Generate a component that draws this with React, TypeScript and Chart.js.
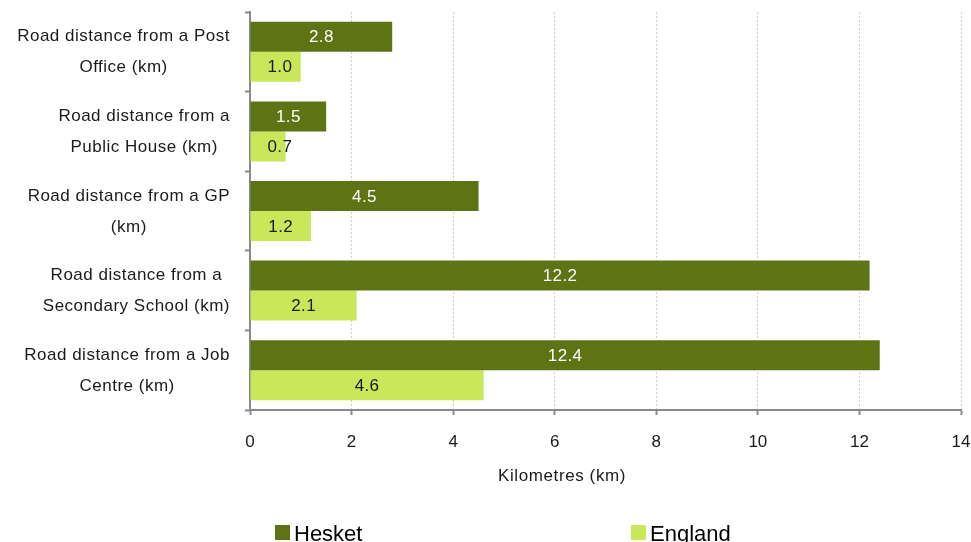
import React, { useEffect, useRef } from "react";
import { Chart, registerables } from "chart.js";

Chart.register(...registerables);

const categories: string[][] = [
  ["Road distance from a Post", "Office (km)"],
  ["Road distance from a", "Public House (km)"],
  ["Road distance from a GP", "(km)"],
  ["Road distance from a", "Secondary School (km)"],
  ["Road distance from a Job", "Centre (km)"],
];
const hesketValues = [2.8, 1.5, 4.5, 12.2, 12.4];
const englandValues = [1.0, 0.7, 1.2, 2.1, 4.6];
const seriesNames = ["Hesket", "England"];
const xMin = 0;
const xMax = 14;
const xStep = 2;
const xTitle = "Kilometres (km)";

const HESKET_COLOR = "#5e7314";
const ENGLAND_COLOR = "#c8e85a";
const LABEL_COLORS = ["#ffffff", "#1a1a1a"];
const FONT = "'Liberation Sans', Arial, Helvetica, sans-serif";
const TEXT = "#1a1a1a";
const AXIS = "#8a8a8a";

const textPlugin = {
  id: "customText",
  afterDatasetsDraw(chart: any) {
    const ctx = chart.ctx as CanvasRenderingContext2D;
    ctx.save();
    (ctx as any).letterSpacing = "0.4px";
    ctx.font = `17px ${FONT}`;
    ctx.textBaseline = "middle";
    ctx.textAlign = "center";
    chart.data.datasets.forEach((ds: any, di: number) => {
      const meta = chart.getDatasetMeta(di);
      meta.data.forEach((bar: any, i: number) => {
        const v = ds.data[i] as number;
        const text = v.toFixed(1);
        const w = ctx.measureText(text).width;
        const x = Math.max((bar.base + bar.x) / 2, bar.base + 17 + w / 2);
        ctx.fillStyle = LABEL_COLORS[di];
        ctx.fillText(text, x, bar.y + 1);
      });
    });
    ctx.restore();
  },
  afterDraw(chart: any) {
    const ctx = chart.ctx as CanvasRenderingContext2D;
    const yScale = chart.scales.y;
    ctx.save();
    (ctx as any).letterSpacing = "0.5px";
    // category labels
    ctx.font = `17px ${FONT}`;
    ctx.fillStyle = TEXT;
    ctx.textBaseline = "middle";
    ctx.textAlign = "center";
    const labels = chart.data.labels as string[][];
    labels.forEach((lines, i) => {
      const cy = yScale.getPixelForValue(i);
      const bw = Math.max(...lines.map((l) => ctx.measureText(l).width));
      const right = yScale.right - 20;
      const cx = right - bw / 2;
      const lh = 31;
      const start = cy - ((lines.length - 1) * lh) / 2;
      lines.forEach((l, k) => {
        ctx.fillText(l, cx, start + k * lh + 0.5);
      });
    });
    // axis title
    (ctx as any).letterSpacing = "0.6px";
    ctx.fillText(xTitle, 562, 476);
    // legend
    (ctx as any).letterSpacing = "0px";
    ctx.font = `22px ${FONT}`;
    ctx.textAlign = "left";
    ctx.textBaseline = "alphabetic";
    const legendX = [275, 631];
    chart.data.datasets.forEach((ds: any, di: number) => {
      const x = legendX[di];
      ctx.fillStyle = ds.backgroundColor;
      ctx.fillRect(x, 525, 15, 15);
      ctx.fillStyle = "#000000";
      ctx.fillText(ds.label, x + 19, 541);
    });
    ctx.restore();
  },
};

export default function App() {
  const canvasRef = useRef<HTMLCanvasElement | null>(null);

  useEffect(() => {
    if (!canvasRef.current) return;
    const chart = new Chart(canvasRef.current, {
      type: "bar",
      data: {
        labels: categories as any,
        datasets: [
          {
            label: seriesNames[0],
            data: hesketValues,
            backgroundColor: HESKET_COLOR,
            categoryPercentage: 0.754,
            barPercentage: 1,
          },
          {
            label: seriesNames[1],
            data: englandValues,
            backgroundColor: ENGLAND_COLOR,
            categoryPercentage: 0.754,
            barPercentage: 1,
          },
        ],
      },
      options: {
        indexAxis: "y",
        animation: false,
        responsive: false,
        maintainAspectRatio: false,
        layout: { padding: { top: 12, right: 10, left: 0, bottom: 0 } },
        plugins: {
          legend: { display: false },
          tooltip: { enabled: false },
          title: { display: false },
        },
        scales: {
          x: {
            type: "linear",
            min: xMin,
            max: xMax,
            ticks: {
              stepSize: xStep,
              font: { family: FONT, size: 17 },
              color: TEXT,
              padding: 17,
            },
            grid: {
              color: "#d6cfae",
              lineWidth: 1,
              tickColor: AXIS,
              tickLength: 5,
              tickWidth: 2,
            },
            border: { color: AXIS, width: 2, dash: [2, 2] },
            afterFit(scale: any) {
              scale.height = 132;
              scale.paddingLeft = 0;
              scale.paddingRight = 0;
            },
          },
          y: {
            type: "category",
            ticks: { display: false },
            grid: {
              drawOnChartArea: false,
              drawTicks: true,
              tickLength: 5,
              tickColor: AXIS,
              tickWidth: 2,
              color: AXIS,
            },
            border: { color: AXIS, width: 2 },
            afterFit(scale: any) {
              scale.width = 250;
              scale.paddingTop = 0;
              scale.paddingBottom = 0;
            },
          },
        },
      },
      plugins: [textPlugin],
    });
    return () => chart.destroy();
  }, []);

  return (
    <div style={{ position: "fixed", left: 0, top: 0, width: 971, height: 542, background: "#ffffff" }}>
      <canvas ref={canvasRef} width={971} height={542} style={{ display: "block" }} />
    </div>
  );
}
